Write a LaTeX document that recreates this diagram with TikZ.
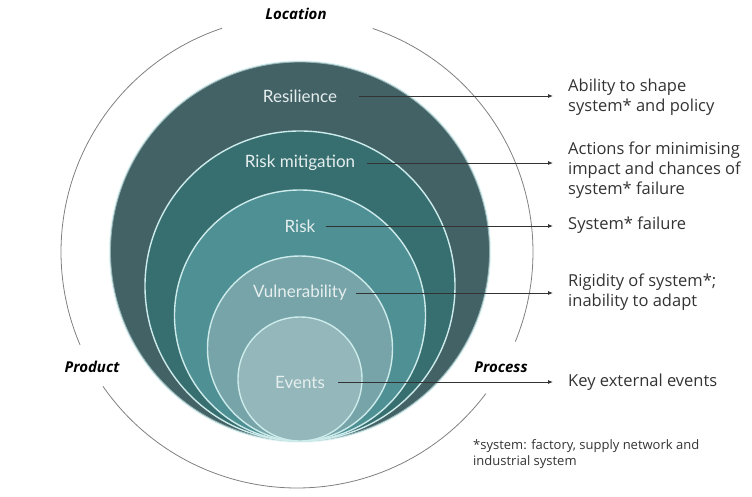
\documentclass[tikz,border=0pt]{standalone}
\usepackage{fontspec}
\setmainfont{Open Sans}
\newfontfamily\circfont{Lato}
\usetikzlibrary{arrows.meta}
\definecolor{cA}{HTML}{436266}
\definecolor{cB}{HTML}{376F71}
\definecolor{cC}{HTML}{4F9095}
\definecolor{cD}{HTML}{76A4A8}
\definecolor{cE}{HTML}{93B7BA}
\definecolor{rim}{HTML}{CDEBEB}
\definecolor{inner}{HTML}{E6EEEE}
\definecolor{txt}{HTML}{333333}
\tikzset{
  ring/.style={draw=rim, line width=1.4pt},
  clabel/.style={text=inner, font=\circfont\fontsize{17}{20}\selectfont, inner sep=0pt},
  desc/.style={text=txt, font=\fontsize{16.5}{20}\selectfont, align=left, anchor=west, inner sep=0pt},
  axis/.style={text=black, font=\bfseries\itshape\fontsize{15}{18}\selectfont, inner sep=0pt},
  arr/.style={draw=txt, line width=0.8pt, -{Latex[length=5pt,width=4pt]}, shorten >=15pt},
  outerarc/.style={draw=gray, line width=0.8pt}
}
\begin{document}
\begin{tikzpicture}[x=1pt,y=1pt]
\useasboundingbox (0,0) rectangle (752,496);
% outer frame arcs, centre (297,244), r 236
\coordinate (oc) at (297,244);
\draw[outerarc] ([shift={(108.5:236)}]oc) arc[start angle=108.5, end angle=203.2, radius=236];
\draw[outerarc] ([shift={(71.3:236)}]oc) arc[start angle=71.3, end angle=-22.3, radius=236];
\draw[outerarc] ([shift={(214.7:236)}]oc) arc[start angle=214.7, end angle=323.1, radius=236];
% nested circles, tangent at bottom (300,55)
\fill[rim!70!white] (300,55+189.5) circle[radius=191];
\filldraw[fill=cA, draw=rim!60!cA, line width=0.8pt] (300,55+189.5) circle[radius=189.5];
\filldraw[fill=cB, ring] (300,55+155) circle[radius=155];
\filldraw[fill=cC, ring] (300,55+125.5) circle[radius=125.5];
\filldraw[fill=cD, ring] (300,55+92.5) circle[radius=92.5];
\filldraw[fill=cE, ring] (300,55+62) circle[radius=62];
% circle labels
\node[clabel] (res) at (300,400) {Resilience};
\node[clabel] (rm)  at (300,333) {Risk mitigation};
\node[clabel] (rk)  at (300,270) {Risk};
\node[clabel] (vu)  at (300,203) {Vulnerability};
\node[clabel] (ev)  at (300,114) {Events};
% descriptions
\node[desc] (d1) at (568,399) {Ability to shape\\system* and policy};
\node[desc] (d2) at (568,326) {Actions for minimising\\impact and chances of\\system* failure};
\node[desc] (d3) at (568,271) {System* failure};
\node[desc] (d4) at (568,204) {Rigidity of system*;\\inability to adapt};
\node[desc] (d5) at (568,114) {Key external events};
% connectors
\draw[arr] ([xshift=22pt]res.east) -- (d1.west |- res.east);
\draw[arr] ([xshift=12pt]rm.east) -- (d2.west |- rm.east);
\draw[arr] ([xshift=10pt]rk.east) -- (d3.west |- rk.east);
\draw[arr] ([xshift=9pt]vu.east) -- (d4.west |- vu.east);
\draw[arr] ([xshift=13pt]ev.east) -- (d5.west |- ev.east);
% axis labels
\node[axis] (loc) at (296,482) {Location};
\node[axis] (prod) at (92,129) {Product};
\node[axis] (proc) at (501,129) {Process};
% footnote
\node[text=txt, font=\fontsize{13}{16}\selectfont, align=left, anchor=north west, inner sep=0pt] (fn) at (473,57) {*system: factory, supply network and\\industrial system};
\end{tikzpicture}
\end{document}
